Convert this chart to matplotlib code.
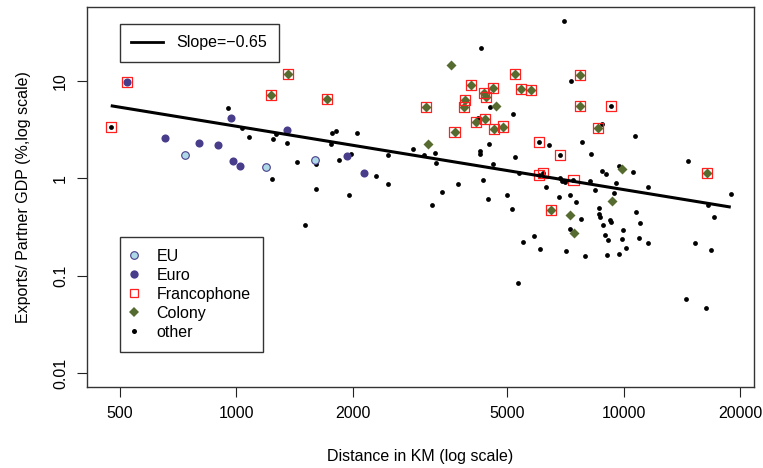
import numpy as np
import matplotlib
matplotlib.use("Agg")
import matplotlib.pyplot as plt
from matplotlib.lines import Line2D

plt.rcParams['font.family'] = ['Liberation Sans', 'DejaVu Sans']

# ---------------- data ----------------
eu_dist = [739, 1194, 1597]
eu_gdp = [1.75, 1.31, 1.54]

euro_dist = [521, 971, 1349, 653, 800, 898, 979, 1021, 1928, 2140]
euro_gdp = [9.8, 4.2, 3.11, 2.61, 2.29, 2.22, 1.51, 1.33, 1.68, 1.15]

colony_dist = [1361, 1228, 1713, 3090, 5253, 7691, 4030, 4604, 4346, 4406,
               5430, 5777, 3890, 3873, 7691, 8592, 4160, 4377, 4617, 4880,
               3657, 16440, 6490, 3584, 4690, 3132, 9880, 7250, 9350, 7450]
colony_gdp = [11.7, 7.17, 6.57, 5.44, 11.7, 11.5, 9.08, 8.38, 7.51, 6.78,
              8.26, 8.13, 6.41, 5.35, 5.57, 3.29, 3.75, 4.07, 3.18, 3.41,
              2.99, 1.14, 0.474, 14.7, 5.57, 2.27, 1.26, 0.418, 0.58, 0.275]

franco_dist = [1361, 1228, 1713, 3090, 5253, 7691, 4030, 4604, 4346, 4406,
               5430, 5777, 3890, 3873, 7691, 8592, 4160, 4377, 4617, 4880,
               3657, 16440, 6490, 521, 474, 9250, 6056, 6861, 6046, 6172, 7418]
franco_gdp = [11.7, 7.17, 6.57, 5.44, 11.7, 11.5, 9.08, 8.38, 7.51, 6.78,
              8.26, 8.13, 6.41, 5.35, 5.57, 3.29, 3.75, 4.07, 3.18, 3.41,
              2.99, 1.14, 0.474, 9.8, 3.39, 5.53, 2.38, 1.74, 1.09, 1.14, 0.97]

other_dist = [949, 1035, 1077, 1262, 1247, 1350, 1770, 1811, 1754, 2044,
              2852, 3056, 2462, 1607, 1432, 1976, 1846, 2296, 2465, 1233,
              1607, 1951, 1503, 7015, 4277, 7310, 4515, 5176, 8798, 4194,
              10720, 3249, 3271, 4255, 4260, 4497, 6403, 7820, 8245, 5253,
              4600, 5379, 6857, 6936, 7064, 8200, 8781, 9010, 9710, 10560,
              9570, 8431, 9460, 11570, 14620, 18890, 16510, 17110, 10770, 3402,
              3207, 3730, 4330, 4473, 5000, 5160, 6790, 7270, 7510, 8630,
              8610, 8670, 10990, 7740, 8850, 9230, 9290, 7250, 9980, 8950,
              9080, 9910, 10920, 11570, 10120, 9750, 9070, 7940, 7080, 6070,
              5870, 5490, 5320, 15310, 16800, 14480, 16340, 6310,
              474, 9250, 6056, 6861, 6046, 6172, 7418]
other_gdp = [5.27, 3.26, 2.66, 2.85, 2.55, 2.29, 2.92, 3.06, 2.25, 2.94,
             2.02, 1.75, 1.75, 1.39, 1.46, 1.80, 1.53, 1.07, 0.867, 0.986,
             0.784, 0.67, 0.333, 41.4, 21.9, 9.89, 5.40, 4.53, 3.64, 4.16,
             2.74, 1.83, 1.43, 1.89, 1.80, 2.23, 2.22, 2.34, 1.78, 1.67,
             1.39, 1.14, 1.01, 0.95, 0.92, 0.95, 1.18, 1.10, 1.33, 1.17,
             0.89, 0.76, 0.71, 0.82, 1.52, 0.69, 0.54, 0.40, 0.455, 0.718,
             0.537, 0.875, 0.955, 0.62, 0.67, 0.49, 0.65, 0.675, 0.57, 0.497,
             0.434, 0.40, 0.351, 0.386, 0.33, 0.371, 0.354, 0.30, 0.296, 0.26,
             0.233, 0.241, 0.246, 0.219, 0.193, 0.169, 0.165, 0.161, 0.178, 0.19,
             0.254, 0.223, 0.085, 0.219, 0.184, 0.058, 0.047, 0.816,
             3.39, 5.53, 2.38, 1.74, 1.09, 1.14, 0.97]

trend_slope = -0.65
trend_intercept = 2.4854

x_ticks = [500, 1000, 2000, 5000, 10000, 20000]
x_ticklabels = ["500", "1000", "2000", "5000", "10000", "20000"]
y_ticks = [0.01, 0.1, 1, 10]
y_ticklabels = ["0.01", "0.1", "1", "10"]

# ---------------- figure ----------------
W, H = 763, 468
fig = plt.figure(figsize=(W / 100, H / 100), dpi=100)
L, R, T, B = 86.7, 754.3, 6.7, 387.0
ax = fig.add_axes([L / W, 1 - B / H, (R - L) / W, (B - T) / H])
ax.set_xscale('log')
ax.set_yscale('log')
ax.set_xlim(10 ** 2.6137, 10 ** 4.337)
ax.set_ylim(10 ** -2.14, 10 ** 1.762)

c_euro = '#483D8B'
c_eu = '#ADD8E6'
c_col = '#556B2F'

ax.scatter(other_dist, other_gdp, s=12, color='black', linewidths=0, zorder=3)
ax.scatter(eu_dist, eu_gdp, s=30, facecolor=c_eu, edgecolor=c_euro, linewidths=0.8, zorder=4)
ax.scatter(euro_dist, euro_gdp, s=34, color=c_euro, linewidths=0, zorder=4)
ax.scatter(colony_dist, colony_gdp, marker='D', s=26, color=c_col, linewidths=0, zorder=5)
ax.scatter(franco_dist, franco_gdp, marker='s', s=52, facecolor='none', edgecolor='#FF2020',
           linewidths=0.9, zorder=6)

all_dist = np.array(other_dist + eu_dist + euro_dist + colony_dist, dtype=float)
xl = np.array([all_dist.min(), all_dist.max()])
yl = 10 ** (trend_intercept + trend_slope * np.log10(xl))
ax.plot(xl, yl, color='black', lw=2.2, solid_capstyle='butt', zorder=7)

ax.set_xticks(x_ticks)
ax.set_xticklabels(x_ticklabels)
ax.set_yticks(y_ticks)
ax.set_yticklabels(y_ticklabels, rotation=90, va='center')
ax.minorticks_off()
ax.tick_params(axis='both', direction='out', length=7, width=0.8, labelsize=11.5, color='#222222')
ax.tick_params(axis='x', pad=7)
ax.tick_params(axis='y', pad=6.5)
for sp in ax.spines.values():
    sp.set_linewidth(1.0)
    sp.set_color('#333333')

ax.set_xlabel('Distance in KM (log scale)', fontsize=11.5, labelpad=19.5)
ax.set_ylabel('Exports/ Partner GDP (%,log scale)', fontsize=11.5, labelpad=15.5)

# legends
h1 = [Line2D([], [], color='black', lw=2)]
leg1 = ax.legend(h1, ['Slope=\u22120.65'], loc='upper left', bbox_to_anchor=(0.0499, 0.9537),
                 borderaxespad=0, fontsize=11.5, frameon=True, fancybox=False,
                 edgecolor='black', borderpad=0.7, handlelength=2.0, handletextpad=0.85)
leg1.get_frame().set_linewidth(1.0)
ax.add_artist(leg1)

h2 = [Line2D([], [], ls='none', marker='o', ms=5.5, mfc=c_eu, mec=c_euro, mew=0.8),
      Line2D([], [], ls='none', marker='o', ms=6, mfc=c_euro, mec=c_euro, mew=0),
      Line2D([], [], ls='none', marker='s', ms=5.5, mfc='none', mec='#FF2020', mew=0.9),
      Line2D([], [], ls='none', marker='D', ms=5, mfc=c_col, mec=c_col, mew=0),
      Line2D([], [], ls='none', marker='o', ms=3.6, mfc='black', mec='black', mew=0)]
leg2 = ax.legend(h2, ['EU', 'Euro', 'Francophone', 'Colony', 'other'], loc='upper left',
                 bbox_to_anchor=(0.0503, 0.3944), borderaxespad=0, fontsize=11.5,
                 frameon=True, fancybox=False, edgecolor='black', borderpad=0.75,
                 handlelength=0.25, handletextpad=1.28, labelspacing=0.25)
leg2.get_frame().set_linewidth(1.0)

fig.savefig('out.png', dpi=100)
